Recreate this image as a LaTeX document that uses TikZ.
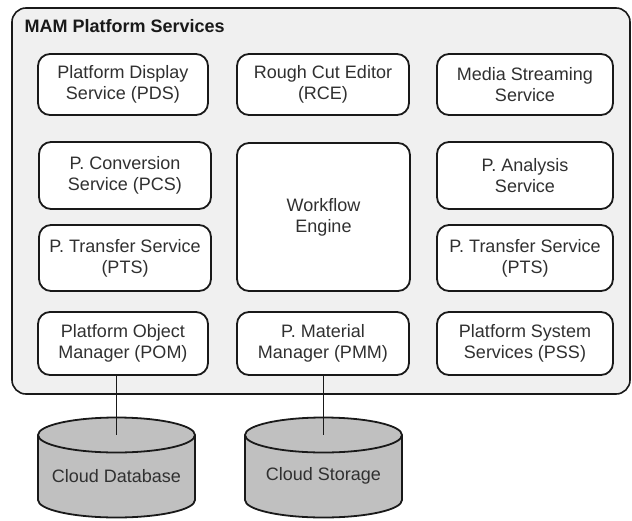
\documentclass[tikz,border=0pt]{standalone}
\usepackage{fontspec}
\setmainfont{Liberation Sans}
\usetikzlibrary{positioning}
\definecolor{panelgray}{HTML}{F0F0F0}
\definecolor{cylgray}{HTML}{C0C0C0}
\definecolor{txtgray}{HTML}{303030}
\tikzset{
  panel/.style={draw=black!90, line width=1.6pt, fill=panelgray, rounded corners=14pt},
  svc/.style={draw=black!90, line width=1.8pt, fill=white, rounded corners=12pt,
    align=center, text=txtgray, inner sep=0pt, font=\fontsize{18}{21}\selectfont},
  cyl/.style={draw=black!90, line width=1.8pt, fill=cylgray},
  link/.style={draw=black!90, line width=1.8pt}
}
\begin{document}
\begin{tikzpicture}[x=1pt, y=-1pt]
    \useasboundingbox (0,0) rectangle (632,520);
    \draw[panel] (12,8) rectangle (630,394);
    \node[anchor=base west, text=black!90, font=\fontsize{18}{21}\selectfont\bfseries] (title) at (21,32) {MAM Platform Services};

    \node[svc, minimum width=170pt, minimum height=61pt] (pds) at (123,84.5) {Platform Display\\Service (PDS)};
    \node[svc, minimum width=172pt, minimum height=61pt] (rce) at (323,84.5) {Rough Cut Editor\\(RCE)};
    \node[svc, minimum width=176pt, minimum height=61pt] (mss) at (525,84.5) {Media Streaming\\Service};

    \node[svc, minimum width=172pt, minimum height=67pt] (pcs) at (125,175.5) {P. Conversion\\Service (PCS)};
    \node[svc, minimum width=173pt, minimum height=148pt] (wfe) at (323.5,217) {Workflow\\Engine};
    \node[svc, minimum width=176pt, minimum height=67pt] (pas) at (525,175.5) {P. Analysis\\Service};

    \node[svc, minimum width=172pt, minimum height=66pt] (ptsl) at (125,258) {P. Transfer Service\\(PTS)};
    \node[svc, minimum width=176pt, minimum height=66pt] (ptsr) at (525,258) {P. Transfer Service\\(PTS)};

    \node[svc, minimum width=170pt, minimum height=63pt] (pom) at (123,343.5) {Platform Object\\Manager (POM)};
    \node[svc, minimum width=172pt, minimum height=63pt] (pmm) at (323,343.5) {P. Material\\Manager (PMM)};
    \node[svc, minimum width=176pt, minimum height=63pt] (pss) at (525,343.5) {Platform System\\Services (PSS)};

    \draw[cyl] (38,435) -- (38,500) arc[start angle=180, end angle=0, x radius=78.5, y radius=17.5] -- (195,435);
    \draw[cyl] (116.5,435) ellipse [x radius=78.5, y radius=17.5];
    \coordinate (dbtop) at (116.5,435);
    \node[text=txtgray, font=\fontsize{18}{21}\selectfont] (db) at (116.5,476) {Cloud Database};

    \draw[cyl] (245,435) -- (245,500) arc[start angle=180, end angle=0, x radius=78.5, y radius=17.5] -- (402,435);
    \draw[cyl] (323.5,435) ellipse [x radius=78.5, y radius=17.5];
    \coordinate (sttop) at (323.5,435);
    \node[text=txtgray, font=\fontsize{18}{21}\selectfont] (st) at (323.5,476) {Cloud Storage};

    \draw[link] (pom.south -| dbtop) -- (dbtop);
    \draw[link] (pmm.south -| sttop) -- (sttop);
\end{tikzpicture}
\end{document}
